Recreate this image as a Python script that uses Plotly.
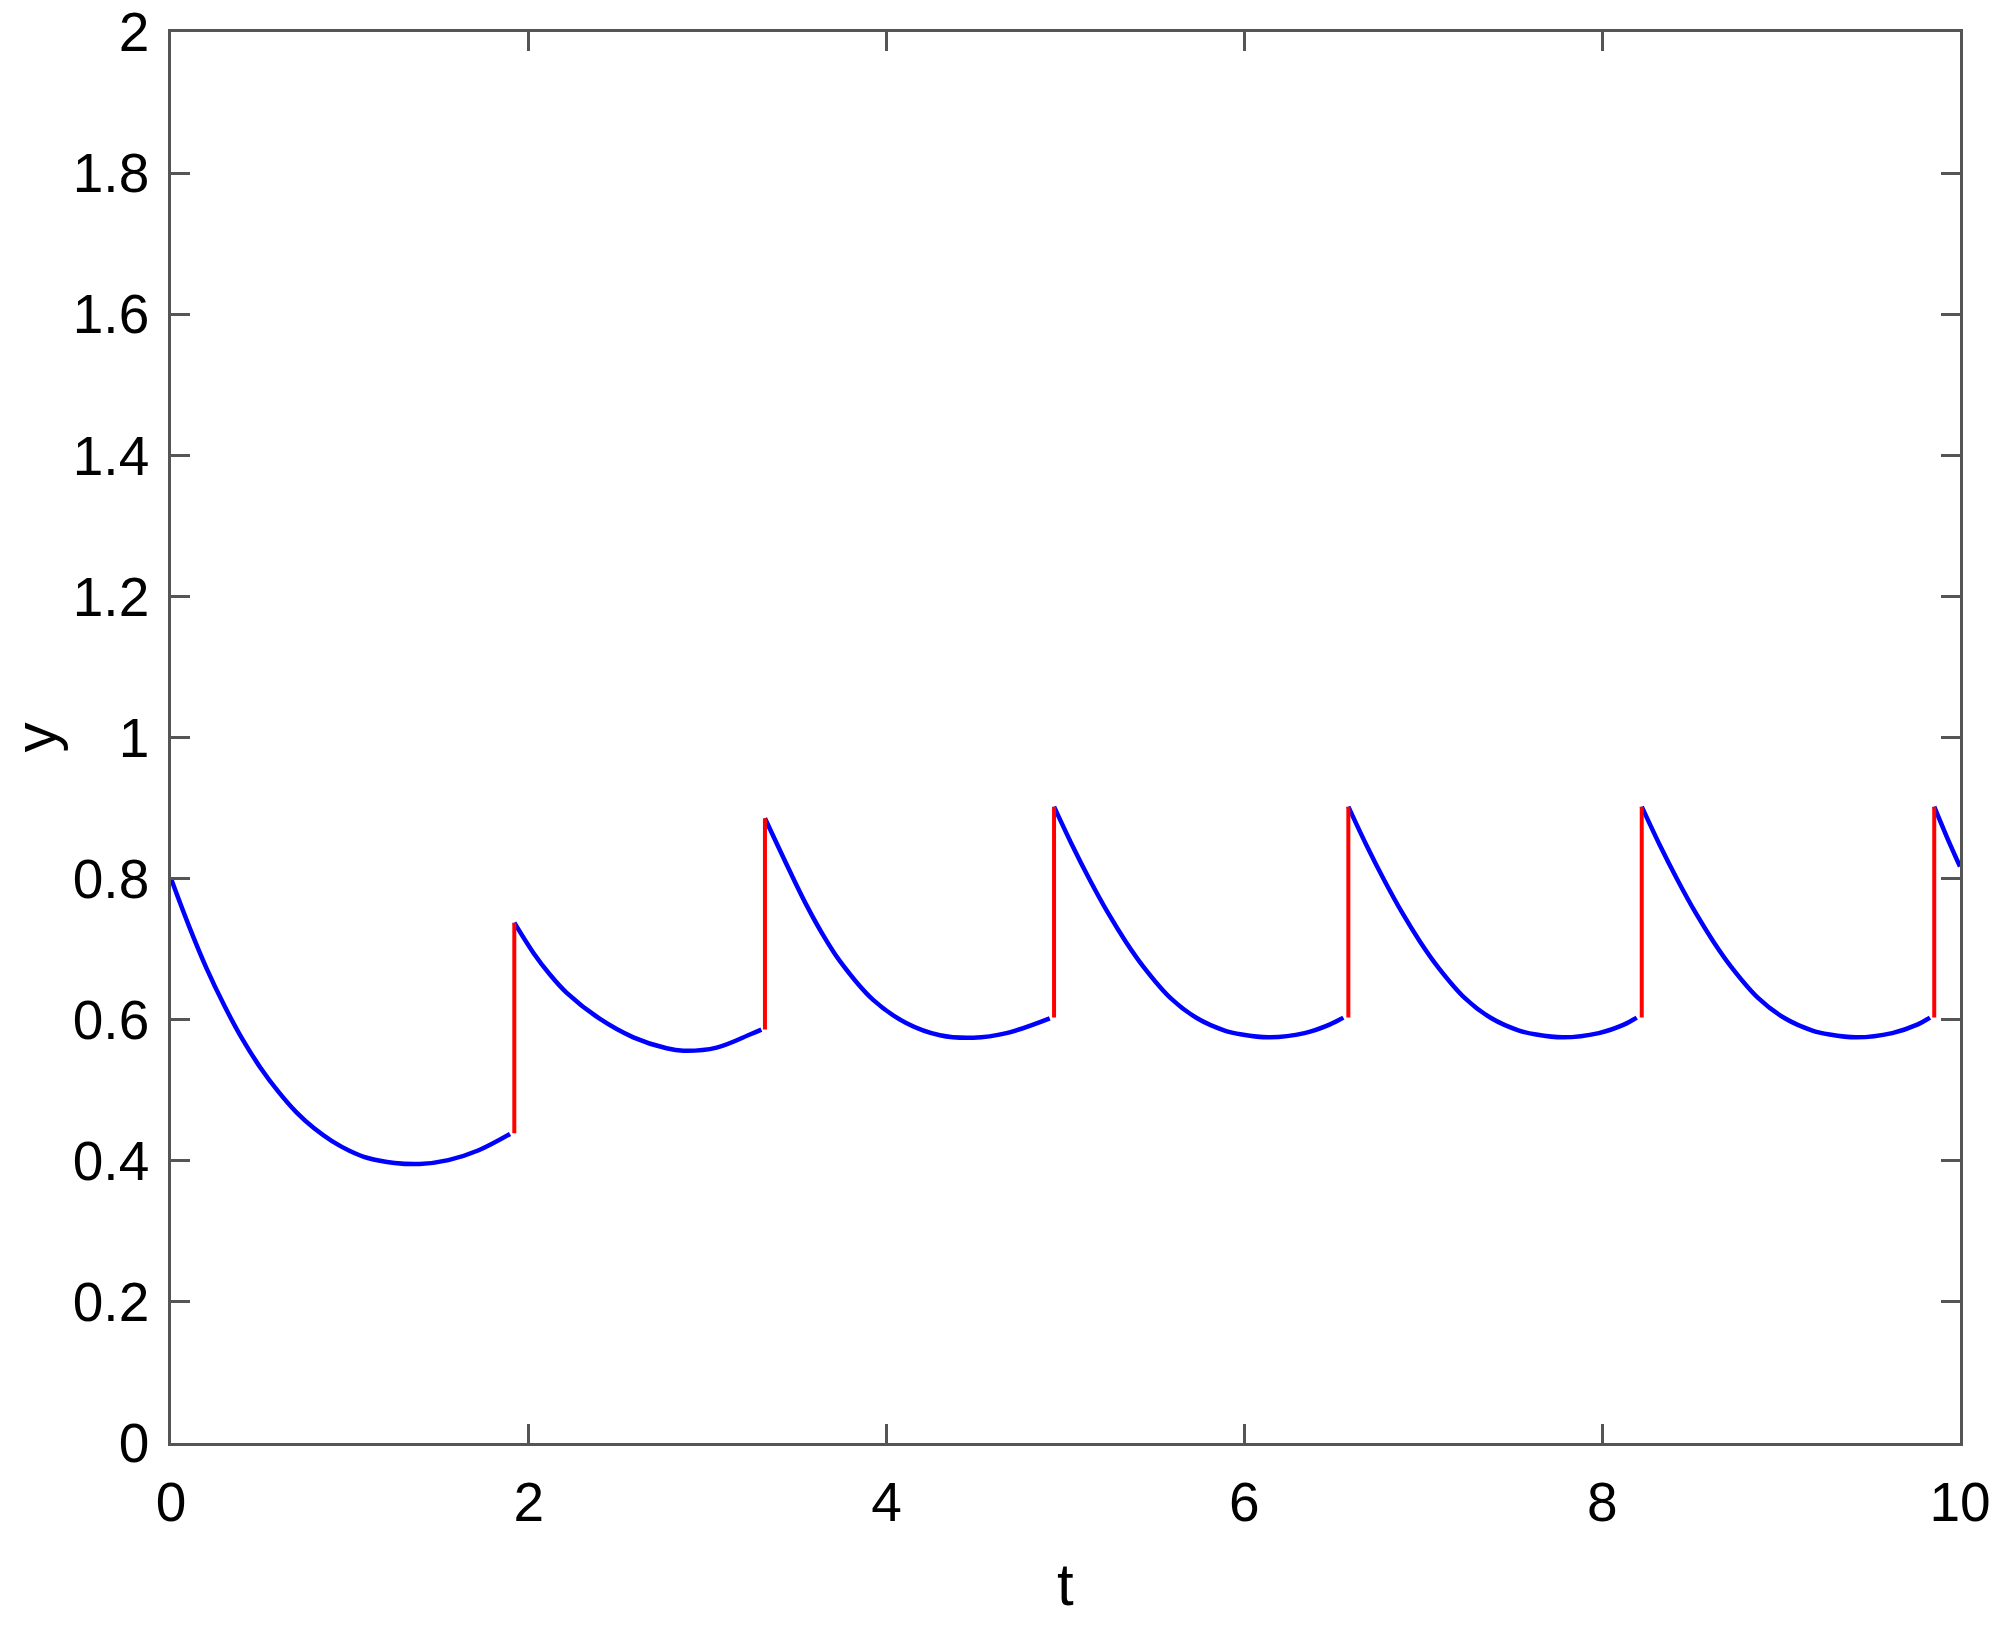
import plotly.graph_objects as go

# solution pieces between impulses
t1 = [0.0, 0.1, 0.2, 0.3, 0.4, 0.5, 0.6, 0.7, 0.8, 0.9, 1.0, 1.1, 1.25, 1.39, 1.55, 1.72, 1.895]
y1 = [0.800, 0.733, 0.672, 0.619, 0.572, 0.532, 0.498, 0.469, 0.446, 0.428, 0.414, 0.404,
      0.397, 0.3955, 0.401, 0.415, 0.438]

t2 = [1.919, 2.025, 2.118, 2.212, 2.398, 2.584, 2.770, 2.864, 3.050, 3.236, 3.300]
y2 = [0.7375, 0.695, 0.664, 0.638, 0.601, 0.575, 0.5595, 0.556, 0.5605, 0.579, 0.586]

t3 = [3.320, 3.460, 3.553, 3.646, 3.739, 3.925, 4.112, 4.298, 4.484, 4.670, 4.912]
y3 = [0.8855, 0.810, 0.762, 0.7195, 0.683, 0.628, 0.595, 0.578, 0.5745, 0.581, 0.602]

t4 = [4.936, 5.036, 5.136, 5.236, 5.336, 5.436, 5.586, 5.736, 5.886, 5.986, 6.136, 6.336, 6.476, 6.553]
y4 = [0.902, 0.848, 0.798, 0.752, 0.711, 0.675, 0.631, 0.602, 0.585, 0.579, 0.575, 0.581, 0.593, 0.603]

t5 = [6.581, 6.681, 6.781, 6.881, 6.981, 7.081, 7.231, 7.381, 7.531, 7.631, 7.781, 7.981, 8.121, 8.193]
y5 = [0.902, 0.848, 0.798, 0.752, 0.711, 0.675, 0.631, 0.602, 0.585, 0.579, 0.575, 0.581, 0.593, 0.603]

t6 = [8.221, 8.321, 8.421, 8.521, 8.621, 8.721, 8.871, 9.021, 9.171, 9.271, 9.421, 9.621, 9.761, 9.832]
y6 = [0.902, 0.848, 0.798, 0.752, 0.711, 0.675, 0.631, 0.602, 0.585, 0.579, 0.575, 0.581, 0.593, 0.603]

t7 = [9.856, 9.925, 10.0]
y7 = [0.902, 0.860, 0.817]

# impulse jumps (red verticals)
jump_t = [1.919, 3.320, 4.936, 6.581, 8.221, 9.856]
jump_lo = [0.439, 0.586, 0.603, 0.603, 0.603, 0.603]
jump_hi = [0.7375, 0.8855, 0.902, 0.902, 0.902, 0.902]

x_ticks = [0, 2, 4, 6, 8, 10]
y_ticks = [0, 0.2, 0.4, 0.6, 0.8, 1, 1.2, 1.4, 1.6, 1.8, 2]

fig = go.Figure()

for tt, yy in zip([t1, t2, t3, t4, t5, t6, t7], [y1, y2, y3, y4, y5, y6, y7]):
    fig.add_trace(go.Scatter(x=tt, y=yy, mode='lines',
                             line=dict(color='#0000ff', width=4.5, shape='spline', smoothing=1),
                             showlegend=False, hoverinfo='skip'))

rx, ry = [], []
for t, lo, hi in zip(jump_t, jump_lo, jump_hi):
    rx += [t, t, None]
    ry += [lo, hi, None]
fig.add_trace(go.Scatter(x=rx, y=ry, mode='lines',
                         line=dict(color='#ff0000', width=4),
                         showlegend=False, hoverinfo='skip'))

font_name = 'Liberation Sans, Arial'
axis_style = dict(
    showgrid=False, zeroline=False,
    showline=True, linecolor='#555555', linewidth=2.5,
    mirror='ticks', ticks='inside', ticklen=19, tickwidth=2.5, tickcolor='#555555',
    tickfont=dict(family=font_name, size=55, color='black'),
    ticklabeloverflow='allow',
)

fig.update_xaxes(range=[0, 10], tickvals=x_ticks, ticklabelstandoff=9, **axis_style)
fig.update_yaxes(range=[0, 2], tickvals=y_ticks, ticklabelstandoff=8, **axis_style)

# axis titles as annotations so they sit where the reference has them
title_font = dict(family=font_name, size=60, color='black')
fig.add_annotation(text='t', xref='paper', yref='paper', x=0.5, y=-0.1006,
                   xanchor='center', yanchor='middle', showarrow=False, font=title_font)
fig.add_annotation(text='y', xref='paper', yref='paper', x=-0.0755, y=0.5, textangle=-90,
                   xanchor='center', yanchor='middle', showarrow=False, font=title_font)

fig.update_layout(
    width=2000, height=1637,
    margin=dict(l=171, r=40, t=32, b=194, autoexpand=False),
    plot_bgcolor='white', paper_bgcolor='white',
)

# drop the default 8px body margin so the figure fills the window
fig.write_html("out.html", config={'displayModeBar': False},
               post_script="document.body.style.margin='0';")
